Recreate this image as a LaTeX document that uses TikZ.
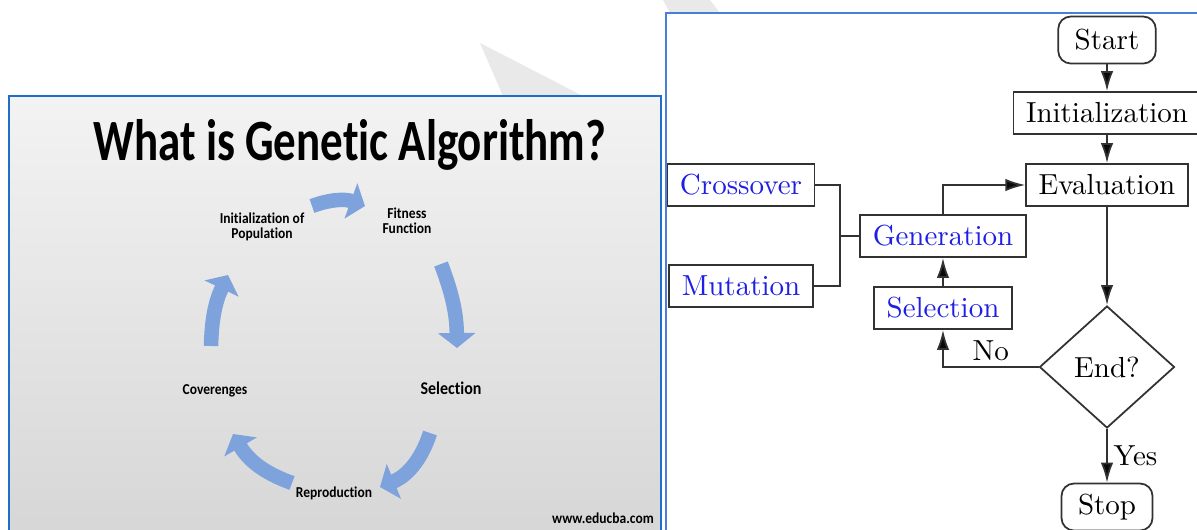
\documentclass[tikz,border=0pt]{standalone}
\usepackage{fontspec}
\setmainfont{lmroman10-regular.otf}
\newfontfamily\slidefont{Carlito}[Ligatures=NoCommon]
\usepackage{tikz}
\usetikzlibrary{shapes.geometric, arrows.meta, positioning}

\definecolor{slideblue}{RGB}{31,111,201}
\definecolor{panelblue}{RGB}{74,127,214}
\definecolor{cycblue}{RGB}{126,163,220}
\definecolor{stepblue}{RGB}{30,30,228}
\definecolor{boxgray}{RGB}{50,50,50}
\definecolor{tipblack}{RGB}{10,10,10}
\definecolor{markgray}{RGB}{233,233,233}

% slide labels are set a little taller than wide
\newcommand{\slidetxt}[2][1.12]{\scalebox{1}[#1]{\begin{tabular}{@{}c@{}}#2\end{tabular}}}
\newcommand{\flowfont}{\fontsize{16.5}{20}\selectfont}

\begin{document}
\begin{tikzpicture}[x=0.02cm, y=0.02cm,
  lbl/.style={font=\slidefont\bfseries\fontsize{7.7}{7.9}\selectfont, inner sep=0pt},
  cyc/.style={line width=0.29cm, cycblue, -{Triangle[length=0.3cm, width=0.74cm]}},
  blk/.style={draw=boxgray, line width=1pt, minimum height=0.84cm, inner xsep=0.25cm, inner ysep=0pt, font=\flowfont, fill=white},
  opbox/.style={blk, text=stepblue},
  termbox/.style={blk, rounded corners=0.25cm, minimum height=0.94cm, inner xsep=0.33cm},
  testbox/.style={draw=boxgray, line width=1pt, diamond, aspect=1.1, minimum width=2.7cm, minimum height=2.44cm, inner sep=0pt, font=\flowfont},
  flowarrow/.style={draw=boxgray, line width=1pt, -{Latex[length=0.4cm, width=0.25cm, fill=tipblack]}},
  wireline/.style={draw=boxgray, line width=1pt}]
\clip (0,0) rectangle (1197,-529);
\fill[white] (0,0) rectangle (1197,-529);

% faint watermark wedges
\fill[markgray] (480,-43) -- (583,-96) -- (503,-96) -- cycle;
\fill[markgray] (663,0) -- (710,0) -- (720,-13) -- (670,-13) -- cycle;

% left slide
\shade[top color={rgb,255:red,243;green,243;blue,243}, bottom color={rgb,255:red,214;green,214;blue,214}] (9,-96) rectangle (661,-540);
\draw[slideblue, line width=1.4pt] (9,-540) -- (9,-96) -- (661,-96) -- (661,-540);

\node[font=\slidefont\bfseries\fontsize{25.6}{30}\selectfont, anchor=base, inner sep=0pt] (title) at (350,-160) {\scalebox{1}[1.3]{What is Genetic Algorithm?}};

\node[lbl] (initpop) at (262,-228) {\slidetxt{Initialization of\\Population}};
\node[lbl] (fitness) at (407,-223) {\slidetxt{Fitness\\Function}};
\node[lbl, font=\slidefont\bfseries\fontsize{9.1}{10}\selectfont] (select) at (451,-391) {\slidetxt{Selection}};
\node[lbl] (reprod) at (334,-494) {\slidetxt{Reproduction}};
\node[lbl] (converge) at (215,-391) {\slidetxt{Coverenges}};
\node[lbl] (site) at (603,-520) {\slidetxt{www.educba.com}};

% cycle arrows
\coordinate (c1a) at (312,-206);
\coordinate (c1b) at (365,-206);
\coordinate (c2a) at (441,-264);
\coordinate (c2b) at (457,-348);
\coordinate (c3a) at (430,-433);
\coordinate (c3b) at (380,-487);
\coordinate (c4a) at (292,-483);
\coordinate (c4b) at (233,-434);
\coordinate (c5a) at (211,-346);
\coordinate (c5b) at (228,-275);
\draw[cyc] (c1a) to[bend left=20] (c1b);
\draw[cyc] (c2a) to[bend left=10] (c2b);
\draw[cyc] (c3a) to[bend left=25] (c3b);
\draw[cyc] (c4a) to[bend left=20] (c4b);
\draw[cyc] (c5a) to[bend left=12] (c5b);

% right panel
\draw[panelblue, line width=0.9pt] (666,-540) -- (666,-13) -- (1210,-13);

\node[termbox] (start) at (1107,-40) {Start};
\node[blk] (init) at (1107,-113) {Initialization};
\node[blk] (eval) at (1107,-185) {Evaluation};
\node[testbox] (check) at (1107,-367) {End?};
\node[termbox] (stop) at (1107,-507) {Stop};
\node[opbox] (cross) at (741,-185) {Crossover};
\node[opbox] (mut) at (741,-286) {Mutation};
\node[opbox] (gen) at (943,-236) {Generation};
\node[opbox] (sel) at (943,-308) {Selection};
\coordinate (jn) at (840,-236);

\draw[flowarrow] (start) -- (init);
\draw[flowarrow] (init) -- (eval);
\draw[flowarrow] (eval) -- (check);
\draw[flowarrow] (check) -- node[right, font=\flowfont] {Yes} (stop);
\draw[flowarrow] (check.west) -| node[above, pos=0.25, inner sep=3pt, font=\flowfont] {No} (sel);
\draw[flowarrow] (sel) -- (gen);
\draw[flowarrow] (gen.north) |- (eval.west);
\draw[wireline] (cross.east) -| (jn) |- (mut.east);
\draw[wireline] (jn) -- (gen.west);
\end{tikzpicture}
\end{document}
